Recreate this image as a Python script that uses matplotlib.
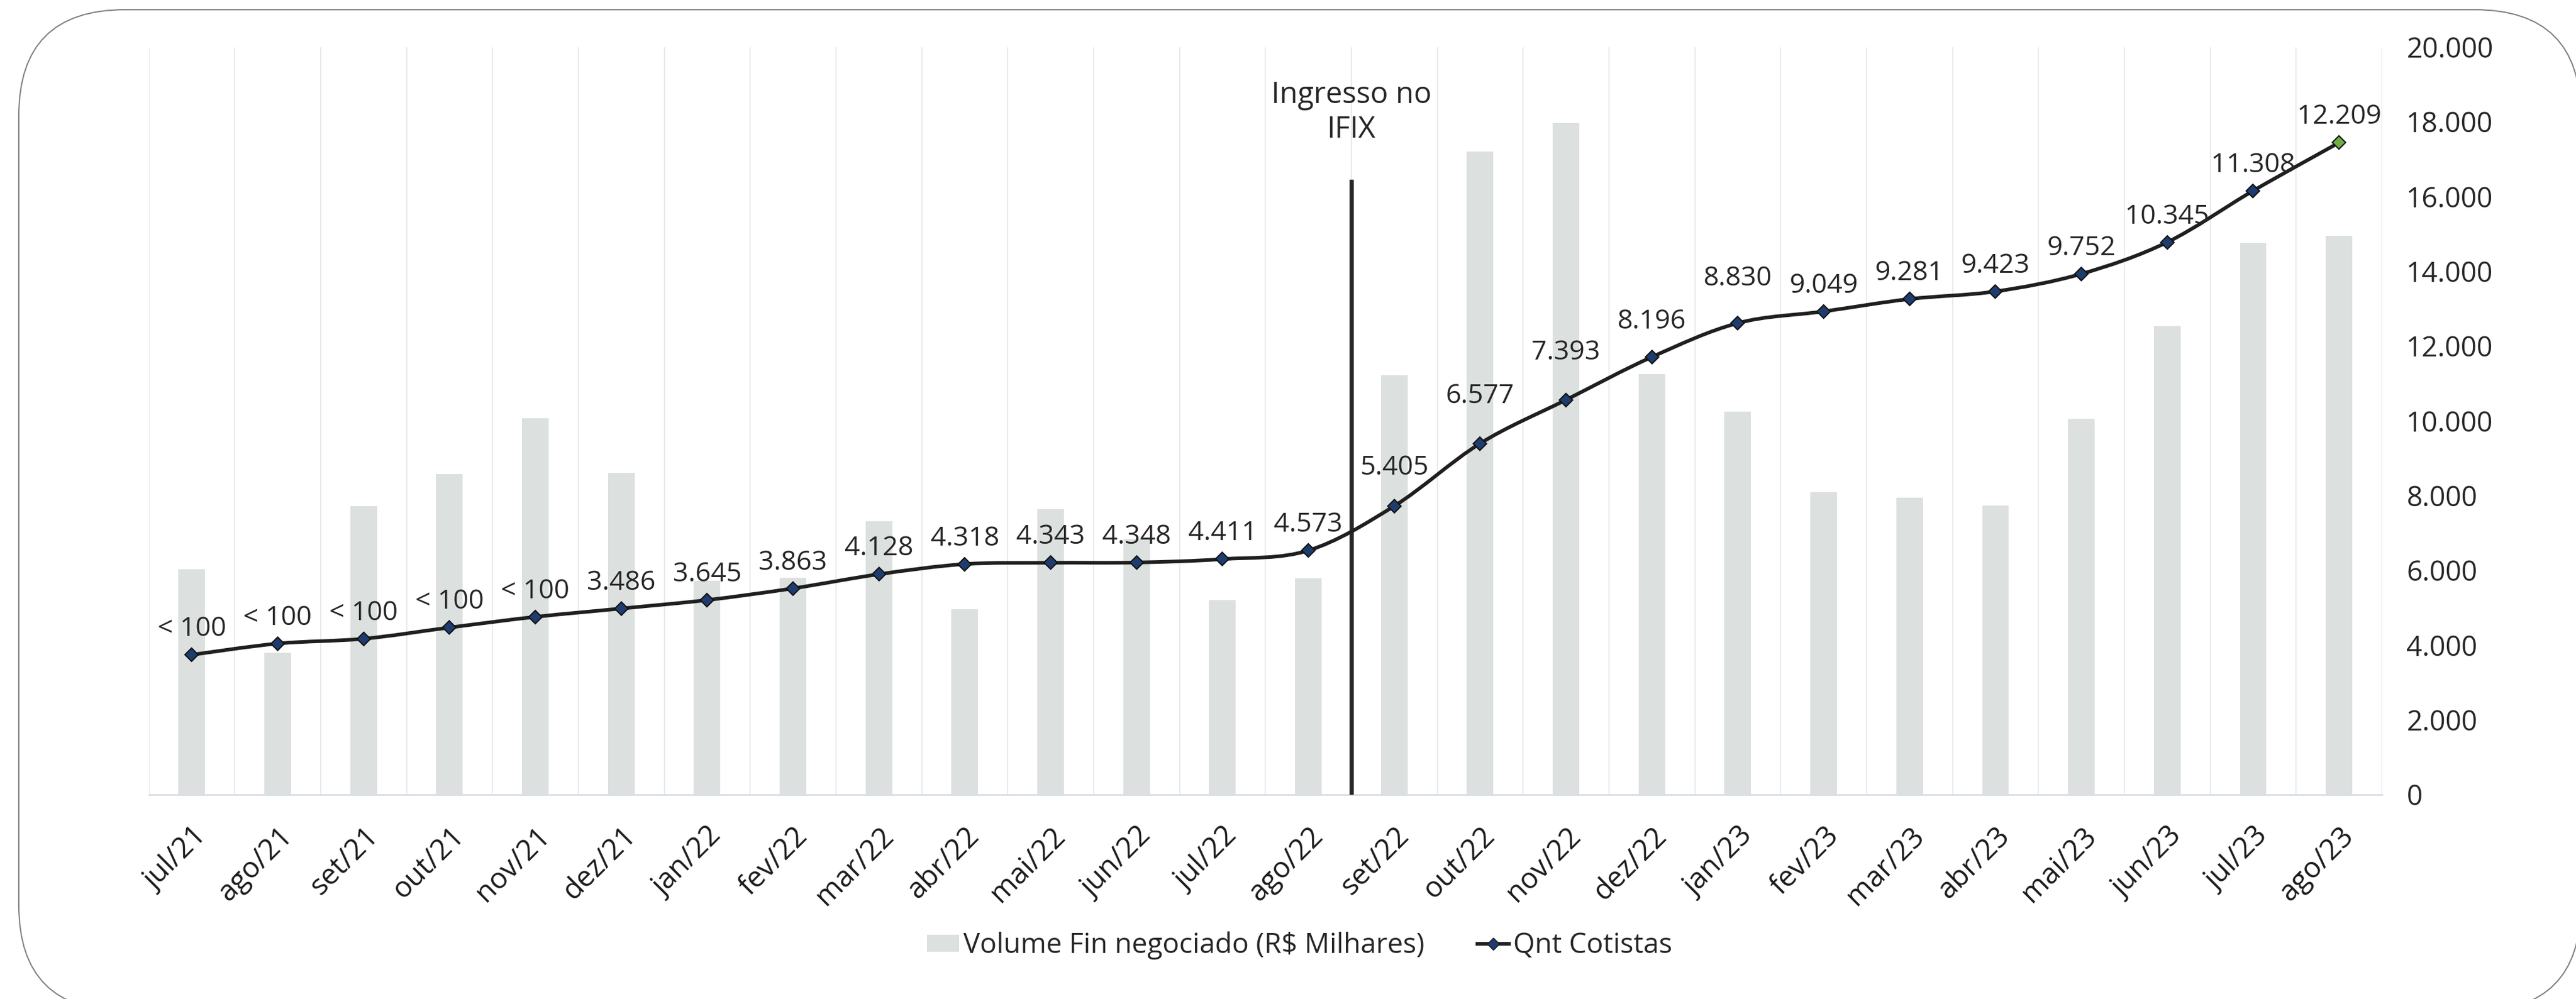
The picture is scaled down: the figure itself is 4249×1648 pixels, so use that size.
import numpy as np
import matplotlib.pyplot as plt
from matplotlib.patches import FancyBboxPatch, Patch
from matplotlib.path import Path
from matplotlib.patches import PathPatch
from matplotlib.lines import Line2D
from matplotlib.transforms import ScaledTranslation

plt.rcParams['font.family'] = ['Open Sans', 'DejaVu Sans']

# data
meses = ['jul/21', 'ago/21', 'set/21', 'out/21', 'nov/21', 'dez/21', 'jan/22', 'fev/22',
         'mar/22', 'abr/22', 'mai/22', 'jun/22', 'jul/22', 'ago/22', 'set/22', 'out/22',
         'nov/22', 'dez/22', 'jan/23', 'fev/23', 'mar/23', 'abr/23', 'mai/23', 'jun/23',
         'jul/23', 'ago/23']

volume = [6030, 3790, 7720, 8580, 10070, 8610, 5720, 5810, 7320, 4960, 7640, 6850, 5200,
          5790, 11220, 17200, 17970, 11250, 10250, 8090, 7950, 7730, 10060, 12530, 14760, 14950]

cotistas = [2620, 2830, 2920, 3130, 3330, 3486, 3645, 3863, 4128, 4318, 4343, 4348, 4411,
            4573, 5405, 6577, 7393, 8196, 8830, 9049, 9281, 9423, 9752, 10345, 11308, 12209]

n_menor_100 = 5          # first months shown as "< 100"
ifix_pos = 13.5          # between ago/22 and set/22
ifix_top = 16450

# label offsets above the point (px), a few were moved by hand in the original
label_dy = [31] * len(cotistas)
label_dy[14] = 52
label_dy[15] = 67
label_dy[16] = 67
label_dy[17] = 47
label_dy[18] = 62


def fmt(v):
    return f'{v:,}'.replace(',', '.')


txt_color = '#262626'
W, H = 4249, 1648
fig = plt.figure(figsize=(W / 100, H / 100), dpi=100)

# rounded frame behind everything
bg = fig.add_axes([0, 0, 1, 1])
bg.set_xlim(0, W)
bg.set_ylim(0, H)
bg.axis('off')
bg.add_patch(FancyBboxPatch((31, -20), 4226, 1652, boxstyle='round,pad=0,rounding_size=175',
                            facecolor='white', edgecolor='#808080', linewidth=1.5))

ax = fig.add_axes([245.5 / W, 337 / H, (3929 - 245.5) / W, (1570.5 - 337) / H])
ax.patch.set_alpha(0)
x = np.arange(len(meses))

ax.bar(x, volume, width=0.31, color='#DCE0DF', zorder=2)
ax.set_xlim(-0.5, len(meses) - 0.5)
ax.set_ylim(0, 20000)

# vertical category gridlines
ax.set_xticks(np.arange(-0.5, len(meses), 1), minor=True)
ax.grid(which='minor', axis='x', color='#E1E6EC', linewidth=1.2, zorder=1)
ax.tick_params(which='minor', length=0)
for s in ['top', 'left', 'right']:
    ax.spines[s].set_visible(False)
ax.spines['bottom'].set_color('#D9DFE6')
ax.spines['bottom'].set_linewidth(2)

ax.set_xticks(x)
ax.set_xticklabels(meses, rotation=45, ha='right', va='center', rotation_mode='anchor',
                   fontsize=34, color='#1a1a1a')
ax.tick_params(axis='x', length=0, pad=44)
for lab in ax.get_xticklabels():
    lab.set_transform(lab.get_transform() + ScaledTranslation(0.17, 0, fig.dpi_scale_trans))

# Ingresso no IFIX
ax.vlines(ifix_pos, 0, ifix_top, color='#262626', linewidth=5, zorder=3)
ax.text(ifix_pos, 18250, 'Ingresso no\nIFIX', ha='center', va='center', fontsize=35,
        color=txt_color, linespacing=1.2)

# cotistas on a hidden second axis
ax2 = ax.twinx()
ax2.set_ylim(0, 14000)
ax2.axis('off')

# twinx moves the first axis ticks to the left, put them back on the right
ax.yaxis.tick_right()
ax.set_yticks(np.arange(0, 20001, 2000))
ax.set_yticklabels([fmt(v) for v in range(0, 20001, 2000)], fontsize=33, color=txt_color)
ax.tick_params(axis='y', length=0, pad=29)

# smooth line (Catmull-Rom as bezier, like the spreadsheet "smoothed line")
pts = np.column_stack([x, cotistas]).astype(float)
verts = [pts[0]]
codes = [Path.MOVETO]
for i in range(len(pts) - 1):
    p0 = pts[i - 1] if i > 0 else pts[i]
    p1 = pts[i]
    p2 = pts[i + 1]
    p3 = pts[i + 2] if i + 2 < len(pts) else pts[i + 1]
    verts += [p1 + (p2 - p0) / 6, p2 - (p3 - p1) / 6, p2]
    codes += [Path.CURVE4] * 3
ax2.add_patch(PathPatch(Path(verts, codes), facecolor='none', edgecolor='#1f1f1f',
                        linewidth=4.3, capstyle='round', zorder=4))

ax2.plot(x[:-1], cotistas[:-1], linestyle='none', marker='D', markersize=11,
         markerfacecolor='#1F3C6E', markeredgecolor='#111111', markeredgewidth=1.5, zorder=5)
ax2.plot(x[-1:], cotistas[-1:], linestyle='none', marker='D', markersize=11,
         markerfacecolor='#70AD47', markeredgecolor='#111111', markeredgewidth=1.5, zorder=5)

for i, v in enumerate(cotistas):
    lab = '< 100' if i < n_menor_100 else fmt(v)
    ax2.annotate(lab, (x[i], v), xytext=(0, label_dy[i] * 0.72), textcoords='offset points',
                 ha='center', va='baseline', fontsize=32, color=txt_color, zorder=6)

handles = [Patch(facecolor='#DCE0DF', edgecolor='none'),
           Line2D([], [], color='#1f1f1f', linewidth=4.3, marker='D', markersize=10,
                  markerfacecolor='#1F3C6E', markeredgecolor='#111111')]
fig.legend(handles, ['Volume Fin negociado (R$ Milhares)', 'Qnt Cotistas'],
           loc='center', bbox_to_anchor=(0.5046, 88 / H), ncol=2, frameon=False,
           fontsize=33, handlelength=1.15, handleheight=0.55, handletextpad=0.15,
           columnspacing=1.9, labelcolor=txt_color)

fig.savefig('out.png', dpi=100)
